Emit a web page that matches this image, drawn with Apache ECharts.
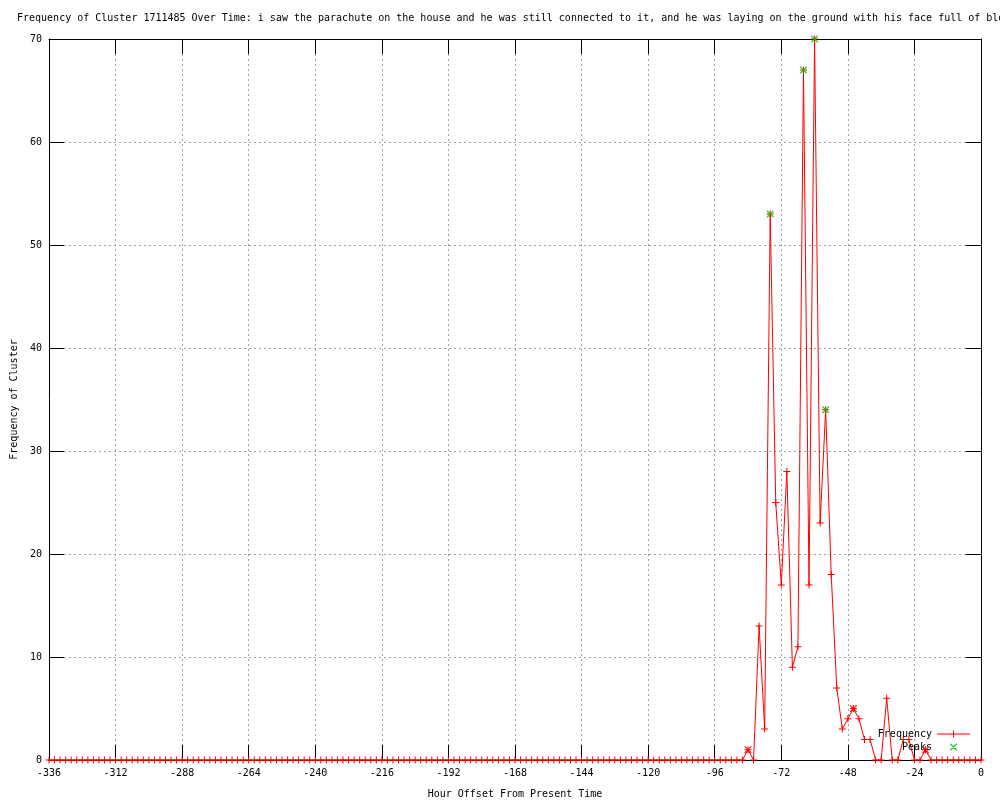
<!DOCTYPE html>
<html>
<head>
<meta charset="utf-8">
<script src="https://cdn.jsdelivr.net/npm/echarts@6/dist/echarts.min.js"></script>
<style>html,body{margin:0;padding:0;background:#fff;}#c{width:1000px;height:800px;}</style>
</head>
<body>
<div id="c"></div>
<script>
var titleText = "Frequency of Cluster 1711485 Over Time: i saw the parachute on the house and he was still connected to it, and he was laying on the ground with his face full of blo";
var xTicks = [-336, -312, -288, -264, -240, -216, -192, -168, -144, -120, -96, -72, -48, -24, 0];
var yTicks = [0, 10, 20, 30, 40, 50, 60, 70];
var hours = [
 -336,-334,-332,-330,-328,-326,-324,-322,-320,-318,-316,-314,-312,-310,-308,-306,-304,-302,-300,-298,
 -296,-294,-292,-290,-288,-286,-284,-282,-280,-278,-276,-274,-272,-270,-268,-266,-264,-262,-260,-258,
 -256,-254,-252,-250,-248,-246,-244,-242,-240,-238,-236,-234,-232,-230,-228,-226,-224,-222,-220,-218,
 -216,-214,-212,-210,-208,-206,-204,-202,-200,-198,-196,-194,-192,-190,-188,-186,-184,-182,-180,-178,
 -176,-174,-172,-170,-168,-166,-164,-162,-160,-158,-156,-154,-152,-150,-148,-146,-144,-142,-140,-138,
 -136,-134,-132,-130,-128,-126,-124,-122,-120,-118,-116,-114,-112,-110,-108,-106,-104,-102,-100,-98,
 -96,-94,-92,-90,-88,-86,-84,-82,-80,-78,-76,-74,-72,-70,-68,-66,-64,-62,-60,-58,
 -56,-54,-52,-50,-48,-46,-44,-42,-40,-38,-36,-34,-32,-30,-28,-26,-24,-22,-20,-18,
 -16,-14,-12,-10,-8,-6,-4,-2,0
];
var frequency = [
 0,0,0,0,0,0,0,0,0,0,0,0,0,0,0,0,0,0,0,0,
 0,0,0,0,0,0,0,0,0,0,0,0,0,0,0,0,0,0,0,0,
 0,0,0,0,0,0,0,0,0,0,0,0,0,0,0,0,0,0,0,0,
 0,0,0,0,0,0,0,0,0,0,0,0,0,0,0,0,0,0,0,0,
 0,0,0,0,0,0,0,0,0,0,0,0,0,0,0,0,0,0,0,0,
 0,0,0,0,0,0,0,0,0,0,0,0,0,0,0,0,0,0,0,0,
 0,0,0,0,0,0,1,0,13,3,53,25,17,28,9,11,67,17,70,23,
 34,18,7,3,4,5,4,2,2,0,0,6,0,0,2,2,0,0,1,0,
 0,0,0,0,0,0,0,0,0
];
var peakHours = [-76, -64, -60, -56];
var peakValues = [53, 67, 70, 34];
var minorPeakHours = [-84, -46, -20];
var minorPeakValues = [1, 5, 1];

var FONT = '"DejaVu Sans Mono", "Liberation Mono", monospace';
var PLUS = 'path://M0,3h7v1h-7z M3,0h1v7h-1z';
var CROSS = 'path://M0,0L1,0L7,6L7,7L6,7L0,1Z M6,0L7,0L7,1L1,7L0,7L0,6Z';
var LEG_FREQ = 'path://M0,3h33v1h-33z M16,0h1v7h-1z';
var LEG_PEAK = 'path://M0,3h0.01v0.01h-0.01z M33,3h0.01v0.01h-0.01z M13,0L14,0L20,6L20,7L19,7L13,1Z M19,0L20,0L20,1L14,7L13,7L13,6Z';
var RED = '#ff0000', GREEN = '#00c000';

function pairs(xs, ys) { return xs.map(function (x, i) { return [x, ys[i]]; }); }

var chart = echarts.init(document.getElementById('c'), null, {renderer: 'canvas'});
var tickLen = 15;
chart.setOption({
  animation: false,
  backgroundColor: '#ffffff',
  textStyle: {fontFamily: FONT, fontSize: 10, color: '#000'},
  title: {
    text: titleText, left: 17, top: 13, padding: 0,
    textStyle: {fontFamily: FONT, fontSize: 10, fontWeight: 'normal', color: '#000'}
  },
  legend: [
    {data: [{name: 'Frequency', icon: LEG_FREQ}], right: 30, top: 729, padding: 0, align: 'right',
     itemWidth: 33, itemHeight: 7, textStyle: {fontFamily: FONT, fontSize: 10, color: '#000'}, selectedMode: false},
    {data: [{name: 'Peaks', icon: LEG_PEAK}], right: 30, top: 742, padding: 0, align: 'right',
     itemWidth: 33, itemHeight: 7, textStyle: {fontFamily: FONT, fontSize: 10, color: '#000'}, selectedMode: false}
  ],
  grid: {left: 49, right: 19, top: 39, bottom: 40, containLabel: false, outerBoundsMode: 'none'},
  xAxis: [
    {type: 'value', position: 'bottom', min: xTicks[0], max: xTicks[xTicks.length - 1], interval: 24,
     name: 'Hour Offset From Present Time', nameLocation: 'middle', nameGap: 29,
     nameTextStyle: {fontFamily: FONT, fontSize: 10, color: '#000'},
     axisLine: {onZero: false, lineStyle: {color: '#000', width: 1}},
     axisTick: {inside: true, length: tickLen, lineStyle: {color: '#000'}},
     axisLabel: {margin: 8, fontFamily: FONT, fontSize: 10, color: '#000'},
     splitLine: {show: true, lineStyle: {color: '#a0a0a0', type: [2, 3], width: 1}}},
    {type: 'value', position: 'top', min: xTicks[0], max: xTicks[xTicks.length - 1], interval: 24,
     axisLine: {onZero: false, lineStyle: {color: '#000', width: 1}},
     axisTick: {inside: true, length: tickLen, lineStyle: {color: '#000'}},
     axisLabel: {show: false}, splitLine: {show: false}}
  ],
  yAxis: [
    {type: 'value', position: 'left', min: yTicks[0], max: yTicks[yTicks.length - 1], interval: 10,
     name: 'Frequency of Cluster', nameLocation: 'middle', nameGap: 30, nameRotate: 90,
     nameTextStyle: {fontFamily: FONT, fontSize: 10, color: '#000'},
     axisLine: {show: true, onZero: false, lineStyle: {color: '#000', width: 1}},
     axisTick: {show: true, inside: true, length: tickLen, lineStyle: {color: '#000'}},
     axisLabel: {margin: 7, fontFamily: FONT, fontSize: 10, color: '#000'},
     splitLine: {show: true, lineStyle: {color: '#a0a0a0', type: [2, 3], width: 1}}},
    {type: 'value', position: 'right', min: yTicks[0], max: yTicks[yTicks.length - 1], interval: 10,
     axisLine: {show: true, onZero: false, lineStyle: {color: '#000', width: 1}},
     axisTick: {show: true, inside: true, length: tickLen, lineStyle: {color: '#000'}},
     axisLabel: {show: false}, splitLine: {show: false}}
  ],
  series: [
    {name: 'Frequency', type: 'line', xAxisIndex: 0, yAxisIndex: 0, data: pairs(hours, frequency),
     symbol: PLUS, symbolSize: 7, showAllSymbol: true, clip: false,
     lineStyle: {color: RED, width: 1}, itemStyle: {color: RED}, z: 3},
    {name: 'MinorPeaks', type: 'scatter', data: pairs(minorPeakHours, minorPeakValues),
     symbol: CROSS, symbolSize: 7, clip: false, itemStyle: {color: RED}, z: 4},
    {name: 'Peaks', type: 'scatter', data: pairs(peakHours, peakValues),
     symbol: CROSS, symbolSize: 7, clip: false, itemStyle: {color: GREEN}, z: 4}
  ]
});
</script>
</body>
</html>
